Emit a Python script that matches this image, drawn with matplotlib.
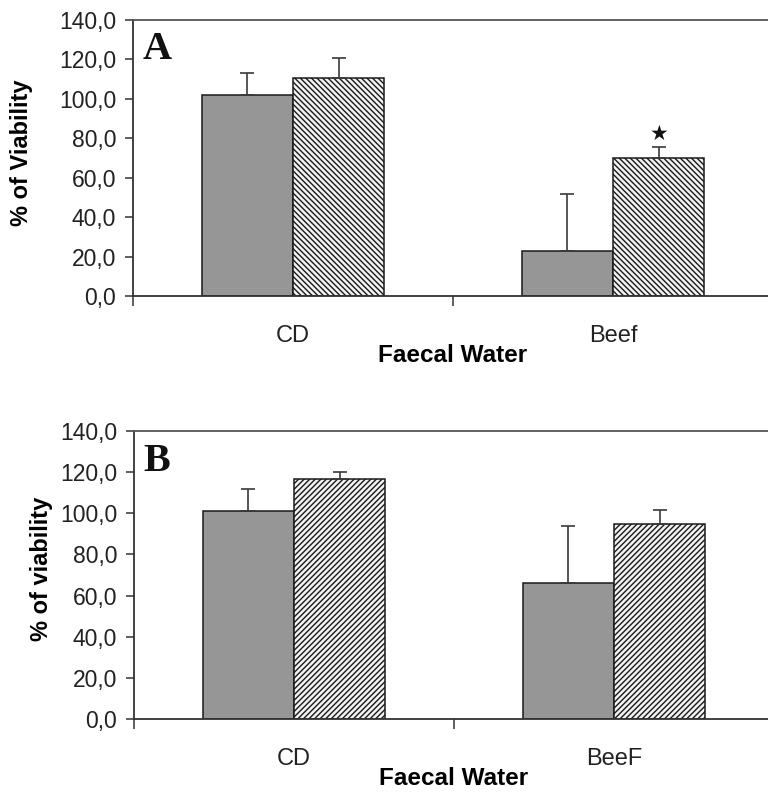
import matplotlib
matplotlib.use("Agg")
import matplotlib.pyplot as plt
import numpy as np

# ---- data ----
categories_A = ["CD", "Beef"]
categories_B = ["CD", "BeeF"]
gray_A = [102.0, 22.8]
gray_A_err = [11.0, 28.9]
hatch_A = [110.6, 70.0]
hatch_A_err = [10.1, 5.6]
gray_B = [101.1, 66.3]
gray_B_err = [10.5, 27.3]
hatch_B = [116.7, 94.6]
hatch_B_err = [3.3, 6.8]
star_A = [None, 82.0]   # significance marks above hatched bars
ytick_vals = [0, 20, 40, 60, 80, 100, 120, 140]
ytick_labels = ["0,0", "20,0", "40,0", "60,0", "80,0", "100,0", "120,0", "140,0"]
xlabel = "Faecal Water"
ylabel_A = "% of Viability"
ylabel_B = "% of viability"

plt.rcParams['font.family'] = ['Liberation Sans', 'DejaVu Sans']
plt.rcParams['hatch.linewidth'] = 1.0
plt.rcParams['hatch.color'] = '#8a8a8a'

W, H = 768, 792
fig = plt.figure(figsize=(W / 100, H / 100), dpi=100)

def make_panel(rect, cats, g, ge, h, he, ylabel, letter, hatch, stars, ylabel_x):
    ax = fig.add_axes(rect)
    x = np.arange(len(cats))
    bw = 0.285
    off = 0.1425
    ax.bar(x - off, g, width=bw, color='#969696', edgecolor='#1a1a1a', linewidth=1.1, zorder=2)
    ax.bar(x + off, h, width=bw, color='#f2f2f2', edgecolor='#1a1a1a', linewidth=1.1,
           hatch=hatch, zorder=2)
    ax.errorbar(x - off, g, yerr=[np.zeros(len(g)), ge], fmt='none', ecolor='#3a3a3a',
                elinewidth=1.2, capsize=5, capthick=1.2, zorder=3)
    ax.errorbar(x + off, h, yerr=[np.zeros(len(h)), he], fmt='none', ecolor='#3a3a3a',
                elinewidth=1.2, capsize=5, capthick=1.2, zorder=3)
    for xi, s in zip(x, stars):
        if s is not None:
            ax.text(xi + off, s, "\u2605", family='DejaVu Sans', fontsize=15,
                    ha='center', va='center', color='#111111')
    ax.set_xlim(-0.5, 1.5)
    ax.set_ylim(0, 140)
    ax.set_yticks(ytick_vals)
    ax.set_yticklabels(ytick_labels, fontsize=16.5, color='#222222')
    ax.tick_params(axis='y', direction='out', length=6, width=1.1, pad=6, color='#333333')
    ax.set_xticks([-0.5, 0.5, 1.5])
    ax.set_xticklabels([])
    ax.tick_params(axis='x', which='major', direction='out', length=7, width=1.1, color='#333333')
    ax.set_xticks(x, minor=True)
    ax.set_xticklabels(cats, minor=True, fontsize=17, color='#222222')
    ax.tick_params(axis='x', which='minor', length=0, pad=21)
    ax.set_xlabel(xlabel, fontsize=17.5, fontweight='bold', labelpad=-2)
    ax.set_ylabel(ylabel, fontsize=17, fontweight='bold')
    ax.yaxis.set_label_coords(ylabel_x, 0.52)
    for sp in ['left', 'bottom', 'top']:
        ax.spines[sp].set_linewidth(1.3)
        ax.spines[sp].set_color('#333333')
    ax.spines['top'].set_color('#555555')
    ax.spines['right'].set_visible(False)
    ax.text(0.015, 0.96, letter, transform=ax.transAxes, fontsize=29, fontweight='bold',
            family='Liberation Serif', ha='left', va='top', color='#111111')
    return ax

axw = 640 / W
make_panel([133 / W, (H - 296) / H, axw, 276 / H], categories_A, gray_A, gray_A_err,
           hatch_A, hatch_A_err, ylabel_A, "A", '\\' * 6, star_A, -0.156)
make_panel([134 / W, (H - 719) / H, axw, 288 / H], categories_B, gray_B, gray_B_err,
           hatch_B, hatch_B_err, ylabel_B, "B", '/' * 6, [None, None], -0.127)

fig.savefig("out.png", dpi=100)
